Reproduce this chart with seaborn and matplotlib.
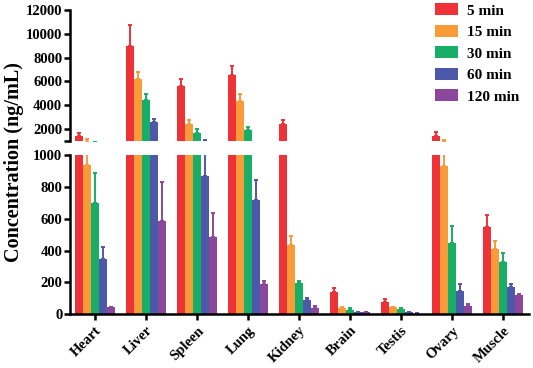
import matplotlib
matplotlib.use('Agg')
import matplotlib.pyplot as plt
import seaborn as sns
import numpy as np
import pandas as pd

#----------------------------------------------------------------------------------------------------------------------#
# Data
#----------------------------------------------------------------------------------------------------------------------#

organs = ['Heart', 'Liver', 'Spleen', 'Lung', 'Kidney', 'Brain', 'Testis', 'Ovary', 'Muscle']
times = ['5 min', '15 min', '30 min', '60 min', '120 min']

# mean concentration (ng/mL), one list per time point
conc_5 = [1410, 9000, 5610, 6560, 2420, 142, 79, 1440, 548]
conc_15 = [940, 6200, 2420, 4380, 437, 42, 44, 931, 410]
conc_30 = [700, 4460, 1640, 1920, 195, 29, 33, 446, 326]
conc_60 = [347, 2590, 866, 716, 92, 14, 14, 144, 171]
conc_120 = [44, 585, 487, 190, 42, 14, 5, 54, 119]

# upper error (SD)
err_5 = [250, 1700, 590, 760, 340, 23, 15, 280, 73]
err_15 = [210, 560, 310, 560, 54, 4, 4, 160, 52]
err_30 = [185, 450, 330, 270, 12, 8, 6, 110, 59]
err_60 = [75, 250, 190, 125, 12, 2, 2, 44, 17]
err_120 = [4, 243, 147, 22, 10, 2, 1, 13, 6]

colors = ['#EE3237', '#F89B38', '#17AE68', '#4E58A8', '#8B479C']

#----------------------------------------------------------------------------------------------------------------------#
# Setup
#----------------------------------------------------------------------------------------------------------------------#

means = [conc_5, conc_15, conc_30, conc_60, conc_120]
errs = [err_5, err_15, err_30, err_60, err_120]

df = pd.DataFrame({
    'organ': np.tile(organs, len(times)),
    'time': np.repeat(times, len(organs)),
    'conc': np.concatenate(means),
    'err': np.concatenate(errs),
})

sns.set_style('ticks')
plt.rcParams['font.family'] = ['Liberation Serif', 'DejaVu Serif']
plt.rcParams['font.weight'] = 'bold'
plt.rcParams['text.color'] = 'black'
plt.rcParams['axes.edgecolor'] = 'black'
plt.rcParams['xtick.color'] = 'black'
plt.rcParams['ytick.color'] = 'black'

fig = plt.figure(figsize=(5.33, 3.68), dpi=100)
ax_top = fig.add_axes([0.1313, 0.6168, 0.8612, 0.356])
ax_bot = fig.add_axes([0.1313, 0.1459, 0.8612, 0.4329])


def draw_bars(ax):
    sns.barplot(data=df, x='organ', y='conc', hue='time', palette=colors, errorbar=None,
                saturation=1, width=0.8, linewidth=0, ax=ax, legend=True)
    bar_groups = list(ax.containers)
    for i, cont in enumerate(bar_groups):
        for j, bar in enumerate(cont):
            xc = bar.get_x() + bar.get_width() / 2
            ax.errorbar(xc, means[i][j], yerr=[[0], [errs[i][j]]], color=colors[i],
                        lw=1.4, capsize=1.6, capthick=1.4, zorder=1)
    ax.set_xlim(-0.49, 8.51)


draw_bars(ax_top)
draw_bars(ax_bot)

# Top panel
ax_top.set_ylim(1000, 12000)
ax_top.set_yticks([1000, 2000, 4000, 6000, 8000, 10000, 12000])
ax_top.set_yticklabels(['', '2000', '4000', '6000', '8000', '10000', '12000'])
ax_top.set_xticks([])
ax_top.set_xlabel('')
ax_top.set_ylabel('')
for s in ['top', 'right', 'bottom']:
    ax_top.spines[s].set_visible(False)

handles, labels = ax_top.get_legend_handles_labels()
ax_top.get_legend().remove()
ax_bot.get_legend().remove()
fig.legend(handles, labels, loc='upper right', bbox_to_anchor=(1.0, 1.028), frameon=False,
           prop={'size': 11, 'weight': 'bold'}, handlelength=1.5, handleheight=0.8,
           labelspacing=0.48, handletextpad=0.6)

# Bottom panel
ax_bot.set_ylim(0, 1000)
ax_bot.set_yticks(range(0, 1001, 200))
ax_bot.set_xlabel('')
ax_bot.set_ylabel('')
sns.despine(ax=ax_bot)
ax_bot.set_xticks(range(len(organs)))
ax_bot.set_xticklabels(organs, rotation=45, ha='right', rotation_mode='anchor')

for ax in [ax_top, ax_bot]:
    for s in ['left', 'bottom']:
        ax.spines[s].set_linewidth(1.8)
    ax.tick_params(width=1.8, length=4, pad=1.5, labelsize=10.5)
    for lab in ax.get_xticklabels() + ax.get_yticklabels():
        lab.set_fontweight('bold')
ax_bot.tick_params(axis='x', pad=3)

fig.text(0.027, 0.56, 'Concentration (ng/mL)', rotation=90, va='center', ha='center',
         fontsize=14.5, fontweight='bold')

fig.savefig('out.png', dpi=100)
